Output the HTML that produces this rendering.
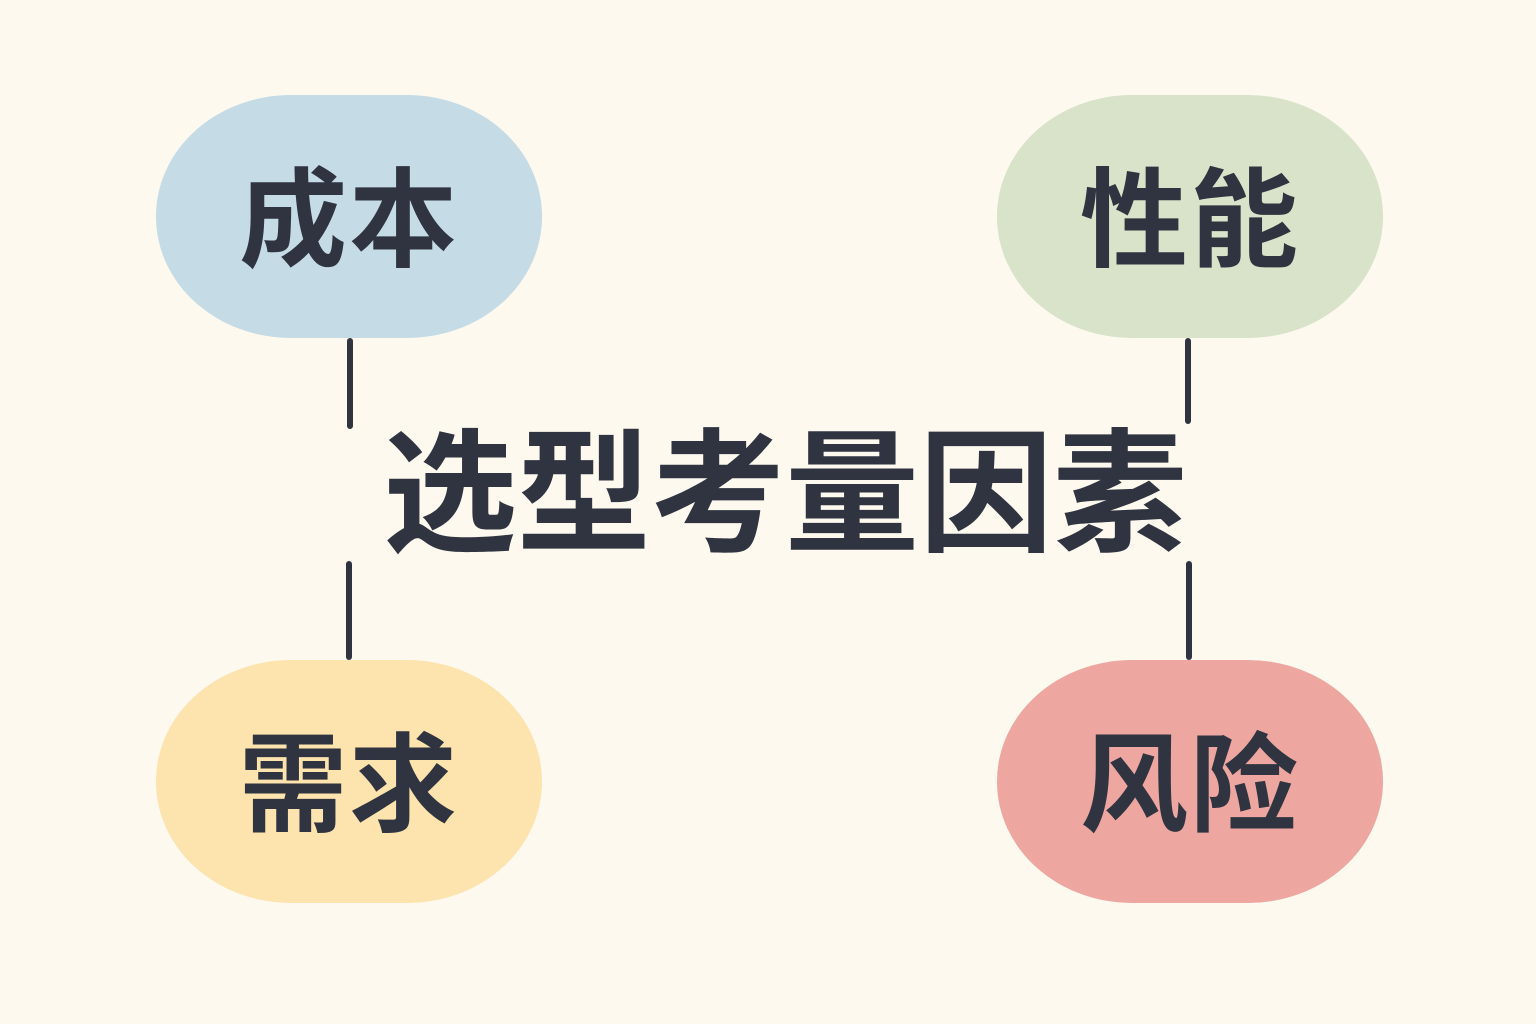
<!DOCTYPE html>
<html><head><meta charset="utf-8"><style>
html,body{margin:0;padding:0}
body{width:1536px;height:1024px;background:#fdf9ef;position:relative;overflow:hidden;font-family:"Liberation Sans","Noto Sans CJK SC",sans-serif;color:#2f3440}
.n{position:absolute;width:386px;height:243px;border-radius:135px/121px;display:flex;align-items:center;justify-content:center;font-size:108px;font-weight:700;letter-spacing:2px;line-height:1;padding-top:8px;box-sizing:border-box}
.l{position:absolute;width:6px;background:#2f3440;border-radius:3px}
.t{position:absolute;left:380px;top:426px;width:810px;text-align:center;font-size:134px;font-weight:700;line-height:140px;letter-spacing:0px}
</style></head><body>
<div class="n" style="left:156px;top:95px;background:#c5dbe5">成本</div>
<div class="n" style="left:997px;top:95px;background:#d8e3c9">性能</div>
<div class="n" style="left:156px;top:660px;background:#fde3ad">需求</div>
<div class="n" style="left:997px;top:660px;background:#eea7a0">风险</div>
<div class="l" style="left:347px;top:338px;height:91px"></div>
<div class="l" style="left:346px;top:561px;height:99px"></div>
<div class="l" style="left:1185px;top:338px;height:86px"></div>
<div class="l" style="left:1186px;top:561px;height:99px"></div>
<div class="t">选型考量因素</div>
</body></html>
